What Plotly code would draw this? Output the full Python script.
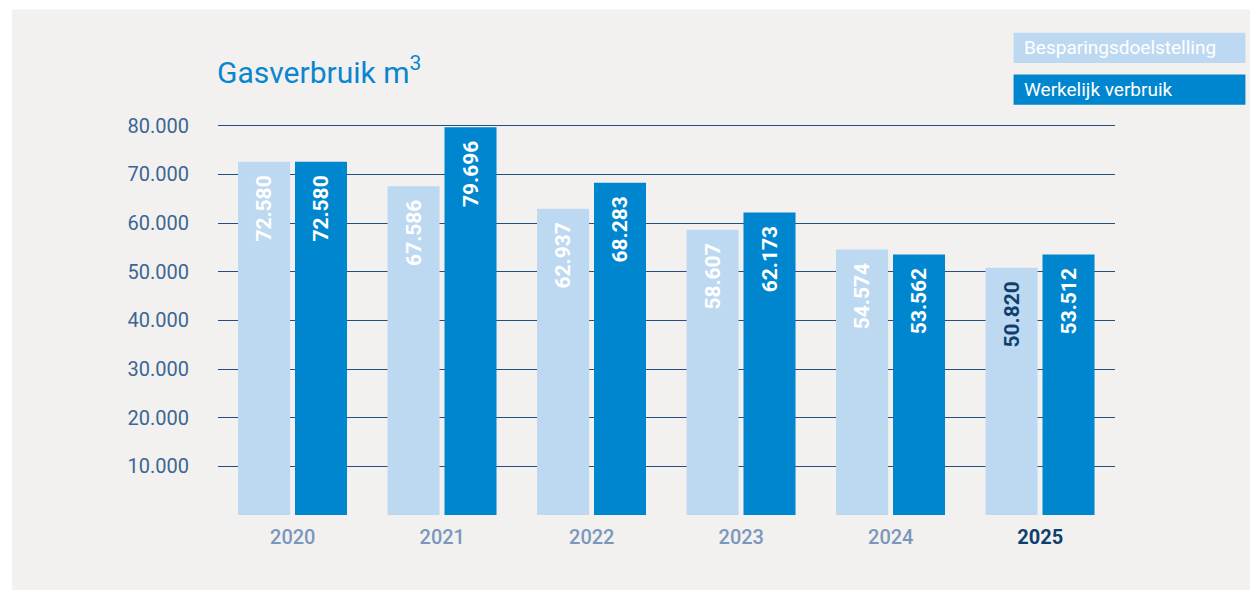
import plotly.graph_objects as go

# Data
years = ["2020", "2021", "2022", "2023", "2024", "2025"]
doelstelling = [72580, 67586, 62937, 58607, 54574, 50820]
werkelijk = [72580, 79696, 68283, 62173, 53562, 53512]
y_ticks = [10000, 20000, 30000, 40000, 50000, 60000, 70000, 80000]
series_names = ["Besparingsdoelstelling", "Werkelijk verbruik"]
title_text = "Gasverbruik m<sup>3</sup>"

# Colours
LIGHT = "#bdd9f1"
DARK = "#0086cf"
NAVY = "#0f3f6d"
PANEL = "#f3f1ef"
GRID = "#23507f"

# the page body has an 8px margin, so the figure is 8px smaller than the window
OFF = 8
W, H = 1258 - OFF, 590 - OFF
# plot area in window pixels: x 218..1115.5, y 115.6..514.7
ML = 218 - OFF
MR = 1258 - 1115.5
MT = 115.6 - OFF
MB = 590 - 514.7
plot_w = W - ML - MR
plot_h = H - MT - MB


def px2x(px):
    # window pixel -> paper x
    return (px - OFF - ML) / plot_w


def px2y(py):
    # window pixel -> paper y
    return (H - MB - (py - OFF)) / plot_h


fig = go.Figure()

light_text_colors = ["white"] * (len(years) - 1) + [NAVY]

fig.add_trace(go.Bar(
    x=years, y=doelstelling, name=series_names[0],
    marker=dict(color=LIGHT, line=dict(width=0)),
    width=0.348, offset=-0.366,
    texttemplate="%{y:,}\u00a0\u00a0", textposition="inside",
    insidetextanchor="end", textangle=-90, constraintext="none",
    insidetextfont=dict(family="Roboto", size=21, color=light_text_colors, weight="bold"),
    showlegend=False,
))
fig.add_trace(go.Bar(
    x=years, y=werkelijk, name=series_names[1],
    marker=dict(color=DARK, line=dict(width=0)),
    width=0.348, offset=0.015,
    texttemplate="%{y:,}\u00a0\u00a0", textposition="inside",
    insidetextanchor="end", textangle=-90, constraintext="none",
    insidetextfont=dict(family="Roboto", size=21, color="white", weight="bold"),
    showlegend=False,
))

# Background panel
fig.add_shape(type="rect", xref="paper", yref="paper",
              x0=px2x(12), x1=px2x(1270), y0=px2y(600), y1=px2y(9),
              fillcolor=PANEL, line=dict(width=0), layer="below")

# Legend boxes drawn as coloured blocks with white text
for i, (name, col) in enumerate(zip(series_names, [LIGHT, DARK])):
    top = 32.3 + i * 41.7
    fig.add_shape(type="rect", xref="paper", yref="paper",
                  x0=px2x(1014), x1=px2x(1246), y0=px2y(top + 30.3), y1=px2y(top),
                  fillcolor=col, line=dict(width=0), layer="below")
    fig.add_annotation(text=name, xref="paper", yref="paper",
                       x=px2x(1022), y=px2y(top + 15), xanchor="left", yanchor="middle",
                       showarrow=False,
                       font=dict(family="Roboto", size=19, color="white"))

fig.add_annotation(text=title_text, xref="paper", yref="paper",
                   x=px2x(215), y=px2y(70), xanchor="left", yanchor="middle",
                   showarrow=False,
                   font=dict(family="Roboto", size=30, color="#0a86cf"))

tick_text = list(years[:-1]) + [f'<b><span style="color:{NAVY}">{years[-1]}</span></b>']

fig.update_layout(
    width=W, height=H,
    margin=dict(l=ML, r=MR, t=MT, b=MB),
    paper_bgcolor="white",
    plot_bgcolor="rgba(0,0,0,0)",
    separators=",.",
    barmode="group",
    font=dict(family="Roboto"),
    xaxis=dict(
        type="category", tickvals=years, ticktext=tick_text,
        showgrid=False, zeroline=False, showline=False, ticks="",
        tickfont=dict(family="Roboto", size=20, color="#7b97bd", weight=500),
        ticklabelstandoff=8,
    ),
    yaxis=dict(
        range=[0, 82000], tickvals=y_ticks, tickformat=",d",
        showgrid=True, gridcolor=GRID, gridwidth=1.4,
        zeroline=False, showline=False, ticks="",
        tickfont=dict(family="Roboto", size=20, color="#3b6693"),
        ticklabelstandoff=28,
    ),
)

fig.write_html("out.html")
